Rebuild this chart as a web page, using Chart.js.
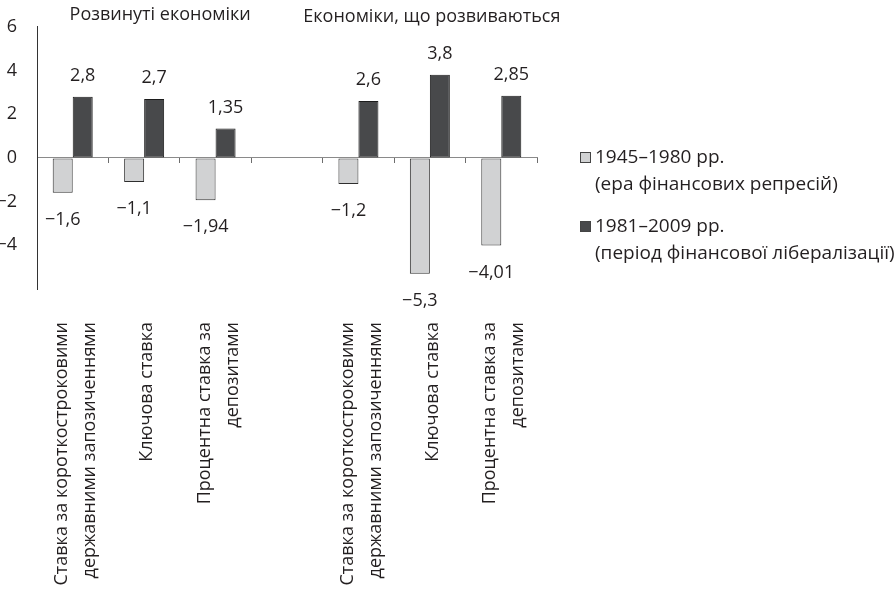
<!DOCTYPE html>
<html>
<head>
<meta charset="utf-8">
<script src="https://cdn.jsdelivr.net/npm/chart.js@4/dist/chart.umd.min.js"></script>
<style>
html,body{margin:0;padding:0;background:#fff;}
#wrap{width:894px;height:592px;position:relative;}
</style>
</head>
<body>
<div id="wrap"><canvas id="c" width="894" height="592"></canvas></div>
<script>
const categories = [
  ["Ставка за короткостроковими", "державними запозиченнями"],
  [" ", "Ключова ставка"],
  ["Процентна ставка за", "депозитами"],
  "",
  ["Ставка за короткостроковими", "державними запозиченнями"],
  [" ", "Ключова ставка"],
  ["Процентна ставка за", "депозитами"]
];
const repressionValues = [-1.6, -1.1, -1.94, null, -1.2, -5.3, -4.01];
const liberalizationValues = [2.8, 2.7, 1.35, null, 2.6, 3.8, 2.85];
const seriesNames = [
  ["1945–1980 рр.", "(ера фінансових репресій)"],
  ["1981–2009 рр.", "(період фінансової лібералізації)"]
];
const groupTitles = ["Розвинуті економіки", "Економіки, що розвиваються"];
const yTickValues = [6, 4, 2, 0, -2, -4];

const FONT = "'Open Sans', sans-serif";
const FS = 18;
const TEXT = '#231f20';
const fills = ['#d1d2d3', '#48494b'];
const borders = ['#2e2e2e', '#1c1c1c'];

function fmt(v) {
  return (v < 0 ? '−' : '') + String(Math.abs(v)).replace('.', ',');
}

const overlay = {
  id: 'overlay',
  afterDatasetsDraw(chart) {
    const ctx = chart.ctx;
    ctx.save();
    ctx.font = FS + 'px ' + FONT;
    ctx.fillStyle = TEXT;
    ctx.textAlign = 'center';
    ctx.textBaseline = 'middle';
    chart.data.datasets.forEach((ds, di) => {
      const meta = chart.getDatasetMeta(di);
      meta.data.forEach((el, i) => {
        const v = ds.data[i];
        if (v === null || v === undefined) return;
        const y = v >= 0 ? el.y - 21 : el.y + 27;
        ctx.fillText(fmt(v), el.x, y);
      });
    });
    // group titles
    const xs = chart.scales.x;
    ctx.fillText(groupTitles[0], xs.getPixelForValue(1) + 16, 15);
    ctx.fillText(groupTitles[1], xs.getPixelForValue(5) + 2, 17);
    // legend
    ctx.font = '19px ' + FONT;
    ctx.textAlign = 'left';
    const lx = 580, ly = [158, 227];
    seriesNames.forEach((lines, si) => {
      ctx.fillStyle = fills[si];
      ctx.fillRect(lx + 0.5, ly[si] - 5.5, 10, 10);
      ctx.strokeStyle = '#444';
      ctx.lineWidth = 1;
      ctx.strokeRect(lx + 0.5, ly[si] - 5.5, 10, 10);
      ctx.fillStyle = TEXT;
      lines.forEach((t, li) => ctx.fillText(t, lx + 15, ly[si] + li * 26.5));
    });
    ctx.restore();
  }
};

new Chart(document.getElementById('c'), {
  type: 'bar',
  data: {
    labels: categories,
    datasets: [
      { label: seriesNames[0].join(' '), data: repressionValues, backgroundColor: fills[0], borderColor: borders[0], borderWidth: 1, borderSkipped: false },
      { label: seriesNames[1].join(' '), data: liberalizationValues, backgroundColor: fills[1], borderColor: borders[1], borderWidth: 1, borderSkipped: false }
    ]
  },
  options: {
    responsive: false,
    animation: false,
    devicePixelRatio: 1,
    layout: { padding: { left: 0, top: 25, right: 357, bottom: 0 } },
    datasets: { bar: { categoryPercentage: 0.56, barPercentage: 1 } },
    plugins: { legend: { display: false }, tooltip: { enabled: false } },
    scales: {
      x: {
        position: 'bottom',
        grid: { display: false, drawTicks: false },
        border: { display: false },
        ticks: {
          autoSkip: false, minRotation: 90, maxRotation: 90, padding: 33, labelOffset: -11,
          color: TEXT,
          font: c => {
            const lbl = categories[c.index];
            const single = Array.isArray(lbl) && lbl[0] === ' ';
            return { family: FONT, size: FS, lineHeight: single ? '14px' : '28px' };
          }
        },
        afterFit(s) { s.height = 303; }
      },
      x0: {
        type: 'category',
        position: { y: 0 },
        grid: { offset: true, drawOnChartArea: false, drawTicks: true, tickLength: 5, color: '#6d6d6d' },
        border: { display: true, color: '#8a8a8a', width: 1 },
        ticks: { display: false }
      },
      y: {
        min: -6, max: 6,
        afterBuildTicks(s) {
          const t = [];
          for (let v = 6; v >= -6; v--) t.push({ value: v });
          s.ticks = t;
        },
        grid: {
          drawOnChartArea: false, drawTicks: true, tickLength: 4,
          tickColor: c => (Math.abs(c.tick.value) % 2 === 1 ? '#333' : 'rgba(0,0,0,0)')
        },
        border: { display: true, color: '#333', width: 1 },
        ticks: {
          padding: 16, color: TEXT, font: { family: FONT, size: FS },
          callback: v => (yTickValues.includes(v) ? fmt(v) : '')
        },
        afterFit(s) { s.width = 37; }
      }
    }
  },
  plugins: [overlay]
});
</script>
</body>
</html>
